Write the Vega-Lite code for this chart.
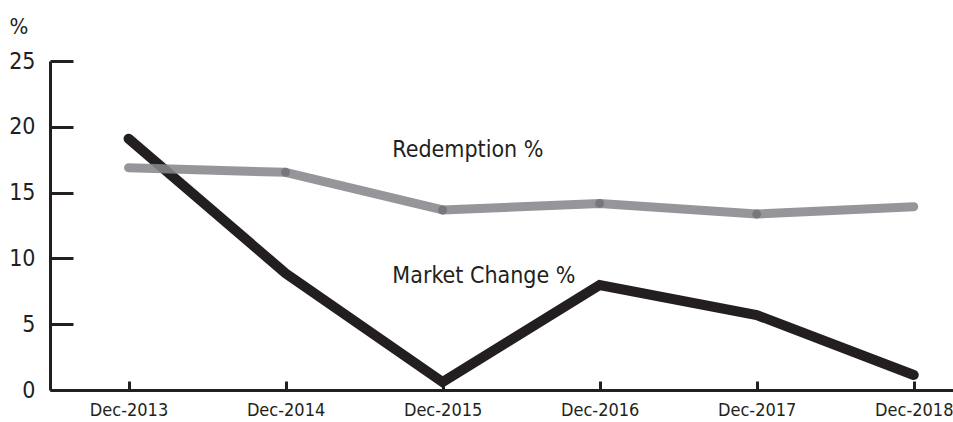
{
  "$schema": "https://vega.github.io/schema/vega-lite/v6.json",
  "autosize": {"type": "none"},
  "width": 903,
  "height": 329,
  "padding": {"left": 50, "top": 61, "right": 0, "bottom": 32},
  "background": "white",
  "config": {
    "view": {"stroke": null},
    "font": "DejaVu Sans Condensed, Roboto Condensed, Roboto",
    "axis": {"grid": false, "domainColor": "#231f20", "tickColor": "#231f20", "labelColor": "#231f20", "titleColor": "#231f20", "labelFont": "DejaVu Sans Condensed, Roboto Condensed, Roboto", "titleFont": "DejaVu Sans Condensed, Roboto Condensed, Roboto"}
  },
  "datasets": {
    "series": [
      {"idx": 0, "period": "Dec-2013", "series": "Market Change %", "value": 19.1},
      {"idx": 1, "period": "Dec-2014", "series": "Market Change %", "value": 8.87},
      {"idx": 2, "period": "Dec-2015", "series": "Market Change %", "value": 0.6},
      {"idx": 3, "period": "Dec-2016", "series": "Market Change %", "value": 7.98},
      {"idx": 4, "period": "Dec-2017", "series": "Market Change %", "value": 5.7},
      {"idx": 5, "period": "Dec-2018", "series": "Market Change %", "value": 1.14},
      {"idx": 0, "period": "Dec-2013", "series": "Redemption %", "value": 16.89},
      {"idx": 1, "period": "Dec-2014", "series": "Redemption %", "value": 16.54},
      {"idx": 2, "period": "Dec-2015", "series": "Redemption %", "value": 13.68},
      {"idx": 3, "period": "Dec-2016", "series": "Redemption %", "value": 14.18},
      {"idx": 4, "period": "Dec-2017", "series": "Redemption %", "value": 13.37},
      {"idx": 5, "period": "Dec-2018", "series": "Redemption %", "value": 13.93}
    ],
    "labels": [
      {"idx": 1.68, "value": 18.2, "text": "Redemption %"},
      {"idx": 1.68, "value": 8.66, "text": "Market Change %"}
    ]
  },
  "layer": [
    {
      "data": {"name": "series"},
      "transform": [{"filter": "datum.series === 'Market Change %'"}],
      "mark": {"type": "line", "color": "#231f20", "strokeWidth": 10, "strokeCap": "round", "strokeJoin": "miter"},
      "encoding": {
        "x": {
          "field": "idx", "type": "quantitative",
          "scale": {"domain": [-0.5, 5.25], "nice": false, "zero": false},
          "axis": {
            "values": [0, 1, 2, 3, 4, 5],
            "labelExpr": "['Dec-2013','Dec-2014','Dec-2015','Dec-2016','Dec-2017','Dec-2018'][datum.value]",
            "title": null,
            "domainWidth": 3,
            "tickWidth": 3,
            "tickSize": -9,
            "labelPadding": 20,
            "labelFontSize": 18,
            "labelBaseline": "top",
            "labelOverlap": false
          }
        },
        "y": {
          "field": "value", "type": "quantitative",
          "scale": {"domain": [0, 25], "nice": false},
          "axis": {
            "values": [0, 5, 10, 15, 20, 25],
            "title": "%",
            "titleAngle": 0,
            "titleAlign": "left",
            "titleBaseline": "top",
            "titleX": -41,
            "titleY": -45,
            "titleFontSize": 22,
            "titleFontWeight": "normal",
            "domainWidth": 3,
            "tickWidth": 3,
            "tickSize": -23,
            "labelPadding": 38,
            "labelFontSize": 23,
            "labelBaseline": "middle"
          }
        }
      }
    },
    {
      "data": {"name": "series"},
      "transform": [{"filter": "datum.series === 'Redemption %'"}],
      "mark": {"type": "line", "color": "#86888b", "opacity": 0.88, "strokeWidth": 9, "strokeCap": "round", "strokeJoin": "round"},
      "encoding": {
        "x": {"field": "idx", "type": "quantitative"},
        "y": {"field": "value", "type": "quantitative"}
      }
    },
    {
      "data": {"name": "series"},
      "transform": [{"filter": "datum.series === 'Redemption %' && datum.idx > 0 && datum.idx < 5"}],
      "mark": {"type": "point", "filled": true, "color": "#77787b", "opacity": 1, "size": 80},
      "encoding": {
        "x": {"field": "idx", "type": "quantitative"},
        "y": {"field": "value", "type": "quantitative"}
      }
    },
    {
      "data": {"name": "labels"},
      "mark": {"type": "text", "align": "left", "baseline": "middle", "fontSize": 23, "color": "#231f20"},
      "encoding": {
        "x": {"field": "idx", "type": "quantitative"},
        "y": {"field": "value", "type": "quantitative"},
        "text": {"field": "text"}
      }
    }
  ]
}
